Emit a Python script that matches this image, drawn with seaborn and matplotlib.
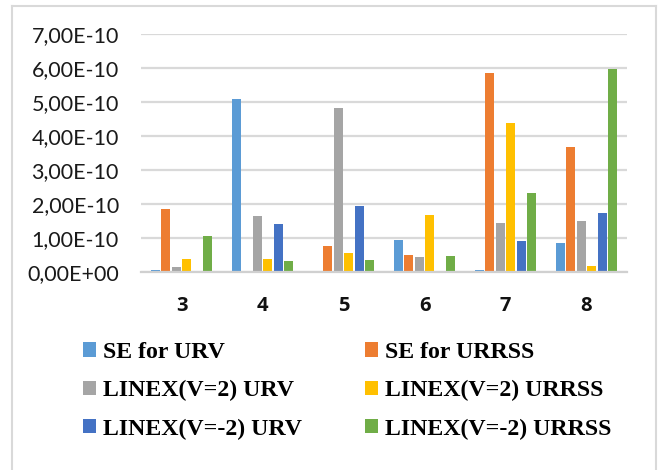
import pandas as pd
import matplotlib
matplotlib.use('Agg')
import matplotlib.pyplot as plt
from matplotlib.patches import Patch
from matplotlib.lines import Line2D
from matplotlib.ticker import FuncFormatter
import seaborn as sns

# values, in units of 1e-10
groups = ['3', '4', '5', '6', '7', '8']
series = ['SE for URV', 'SE for URRSS', 'LINEX(V=2) URV', 'LINEX(V=2) URRSS',
          'LINEX(V=-2) URV', 'LINEX(V=-2) URRSS']
se_urv = [0.05, 5.08, 0.0, 0.93, 0.06, 0.85]
se_urrss = [1.84, 0.03, 0.76, 0.50, 5.84, 3.67]
linex2_urv = [0.16, 1.65, 4.82, 0.45, 1.43, 1.51]
linex2_urrss = [0.38, 0.39, 0.55, 1.68, 4.37, 0.17]
linexm2_urv = [0.0, 1.40, 1.93, 0.0, 0.90, 1.74]
linexm2_urrss = [1.06, 0.31, 0.35, 0.47, 2.31, 5.97]
colors = ['#5B9BD5', '#ED7D31', '#A5A5A5', '#FFC000', '#4472C4', '#70AD47']

all_vals = [se_urv, se_urrss, linex2_urv, linex2_urrss, linexm2_urv, linexm2_urrss]
rows = []
for name, vals in zip(series, all_vals):
    for g, v in zip(groups, vals):
        rows.append({'group': g, 'series': name, 'value': v * 1e-10})
df = pd.DataFrame(rows)

W, H = 661, 470
fig = plt.figure(figsize=(W / 100, H / 100), dpi=100)
ax = fig.add_axes([141 / W, 1 - 272 / H, (627 - 141) / W, (272 - 34) / H])

sns.barplot(data=df, x='group', y='value', hue='series', order=groups,
            hue_order=series, palette=colors, width=0.78, gap=0.12,
            saturation=1, legend=False, ax=ax)

ax.set_ylim(0, 7e-10)
ax.set_yticks([i * 1e-10 for i in range(8)])
ax.yaxis.set_major_formatter(FuncFormatter(lambda v, p: f'{v:.2E}'.replace('.', ',')))
ax.set_xlim(-0.5, 5.5)
ax.grid(axis='y', color='#D9D9D9', linewidth=1.6)
ax.set_axisbelow(True)
for s in ['top', 'right', 'left']:
    ax.spines[s].set_visible(False)
ax.spines['bottom'].set_color('#D0D0D0')
ax.spines['bottom'].set_linewidth(1.6)
ax.tick_params(axis='both', length=0)
ax.tick_params(axis='y', pad=16)
ax.tick_params(axis='x', pad=17)
for t in ax.get_yticklabels():
    t.set_fontfamily('Lato')
    t.set_fontsize(15.5)
    t.set_color('#1a1a1a')
for t in ax.get_xticklabels():
    t.set_fontfamily('Open Sans')
    t.set_fontweight('bold')
    t.set_fontsize(14.5)
    t.set_color('#111111')
ax.set_xlabel('')
ax.set_ylabel('')

# legend, two columns filled row by row
handles = [Patch(facecolor=c, edgecolor='none') for c in colors]
legend_kw = dict(loc='upper left', frameon=False, borderaxespad=0, borderpad=0,
                 handlelength=0.55, handleheight=0.55, handletextpad=0.28,
                 labelspacing=0.72,
                 prop={'family': 'Liberation Serif', 'weight': 'bold', 'size': 17.2})
leg1 = fig.legend(handles[0::2], series[0::2], bbox_to_anchor=(83 / W, 1 - 342 / H), **legend_kw)
leg2 = fig.legend(handles[1::2], series[1::2], bbox_to_anchor=(365 / W, 1 - 342 / H), **legend_kw)

# chart area frame (left, top, right)
frame_kw = dict(color='#D9D9D9', linewidth=1.5, transform=fig.transFigure)
fig.add_artist(Line2D([12 / W, 12 / W], [0, 1 - 6 / H], **frame_kw))
fig.add_artist(Line2D([12 / W, 656 / W], [1 - 6 / H, 1 - 6 / H], **frame_kw))
fig.add_artist(Line2D([656 / W, 656 / W], [0, 1 - 6 / H], **frame_kw))

fig.savefig('out.png', dpi=100)
